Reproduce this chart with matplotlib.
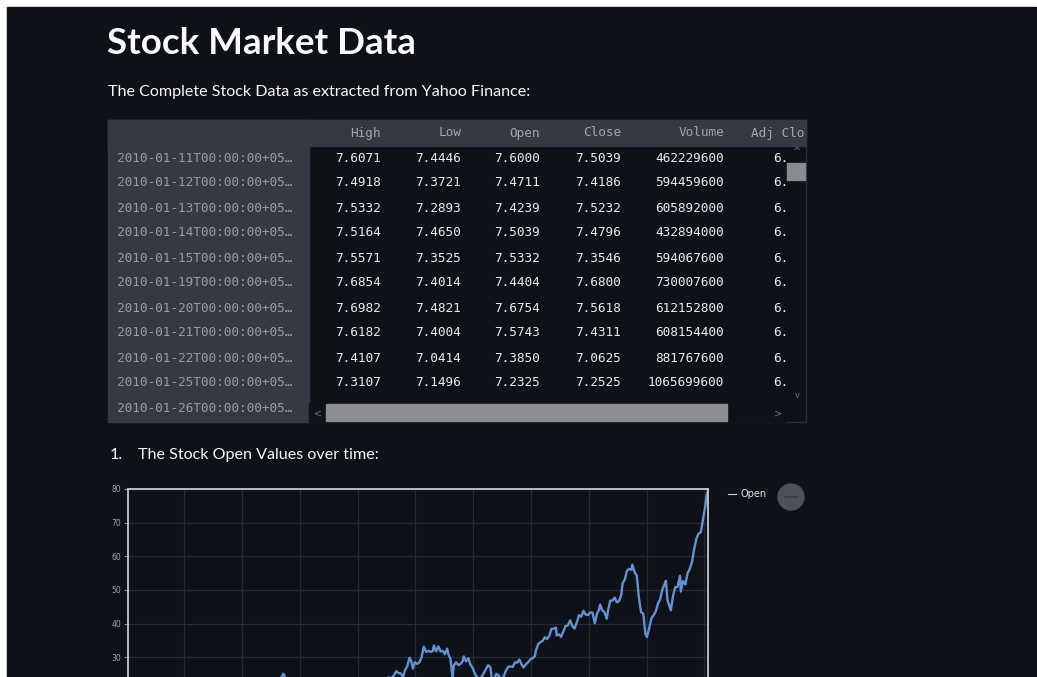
import matplotlib
matplotlib.use("Agg")
import matplotlib.pyplot as plt
import matplotlib.dates as mdates
from matplotlib.patches import Rectangle, Circle
import pandas as pd

W, H = 1037, 677
BG = "#0e1117"
PANEL = "#363845"
SANS = ["Lato", "DejaVu Sans"]
MONO = ["DejaVu Sans Mono"]

# table shown at the top of the page
index_labels = [
    "2010-01-11T00:00:00+05…", "2010-01-12T00:00:00+05…",
    "2010-01-13T00:00:00+05…", "2010-01-14T00:00:00+05…",
    "2010-01-15T00:00:00+05…", "2010-01-19T00:00:00+05…",
    "2010-01-20T00:00:00+05…", "2010-01-21T00:00:00+05…",
    "2010-01-22T00:00:00+05…", "2010-01-25T00:00:00+05…",
    "2010-01-26T00:00:00+05…",
]
columns = ["High", "Low", "Open", "Close", "Volume"]
high = ["7.6071", "7.4918", "7.5332", "7.5164", "7.5571",
        "7.6854", "7.6982", "7.6182", "7.4107", "7.3107"]
low = ["7.4446", "7.3721", "7.2893", "7.4650", "7.3525",
       "7.4014", "7.4821", "7.4004", "7.0414", "7.1496"]
open_col = ["7.6000", "7.4711", "7.4239", "7.5039", "7.5332",
            "7.4404", "7.6754", "7.5743", "7.3850", "7.2325"]
close = ["7.5039", "7.4186", "7.5232", "7.4796", "7.3546",
         "7.6800", "7.5618", "7.4311", "7.0625", "7.2525"]
volume = ["462229600", "594459600", "605892000", "432894000", "594067600",
          "730007600", "612152800", "608154400", "881767600", "1065699600"]
adj_close = ["6."] * 10

# Open price over time
open_dates = [
    "2010-01-11", "2010-02-01", "2010-02-15", "2010-03-01", "2010-03-15",
    "2010-04-01", "2010-04-15", "2010-05-03", "2010-05-17", "2010-06-01",
    "2010-06-15", "2010-07-01", "2010-07-15", "2010-08-02", "2010-08-16",
    "2010-09-01", "2010-09-15", "2010-10-01", "2010-10-15", "2010-11-01",
    "2010-11-15", "2010-12-01", "2010-12-15", "2011-01-03", "2011-01-18",
    "2011-02-01", "2011-02-15", "2011-03-01", "2011-03-15", "2011-04-01",
    "2011-04-15", "2011-05-02", "2011-05-16", "2011-06-01", "2011-06-15",
    "2011-07-01", "2011-07-15", "2011-08-01", "2011-08-15", "2011-09-01",
    "2011-09-15", "2011-10-03", "2011-10-17", "2011-11-01", "2011-11-15",
    "2011-12-01", "2011-12-15", "2012-01-03", "2012-01-17", "2012-02-01",
    "2012-02-15", "2012-03-01", "2012-03-15", "2012-04-02", "2012-04-16",
    "2012-05-01", "2012-05-15", "2012-06-01", "2012-06-15", "2012-07-02",
    "2012-07-16", "2012-08-01", "2012-08-15", "2012-09-04", "2012-09-19",
    "2012-10-01", "2012-10-15", "2012-11-01", "2012-11-15", "2012-12-03",
    "2012-12-17", "2013-01-02", "2013-01-16", "2013-02-01", "2013-02-15",
    "2013-03-01", "2013-03-15", "2013-04-01", "2013-04-15", "2013-05-01",
    "2013-05-15", "2013-06-03", "2013-06-17", "2013-07-01", "2013-07-15",
    "2013-08-01", "2013-08-15", "2013-09-03", "2013-09-16", "2013-10-01",
    "2013-10-15", "2013-11-01", "2013-11-15", "2013-12-02", "2013-12-16",
    "2014-01-02", "2014-01-16", "2014-01-28", "2014-02-14", "2014-03-03",
    "2014-03-17", "2014-04-01", "2014-04-15", "2014-04-24", "2014-05-15",
    "2014-06-02", "2014-06-16", "2014-07-01", "2014-07-15", "2014-08-01",
    "2014-08-15", "2014-09-02", "2014-09-15", "2014-10-01", "2014-10-15",
    "2014-10-28", "2014-11-10", "2014-11-25", "2014-12-05", "2014-12-16",
    "2014-12-29", "2015-01-13", "2015-01-26", "2015-02-09", "2015-02-23",
    "2015-03-10", "2015-03-24", "2015-04-07", "2015-04-21", "2015-04-28",
    "2015-05-12", "2015-05-26", "2015-06-09", "2015-06-23", "2015-07-07",
    "2015-07-21", "2015-07-29", "2015-08-11", "2015-08-24", "2015-09-01",
    "2015-09-15", "2015-09-29", "2015-10-13", "2015-10-27", "2015-11-03",
    "2015-11-17", "2015-12-01", "2015-12-15", "2015-12-29", "2016-01-12",
    "2016-01-26", "2016-02-09", "2016-02-23", "2016-03-08", "2016-03-22",
    "2016-04-05", "2016-04-19", "2016-04-27", "2016-05-12", "2016-05-26",
    "2016-06-09", "2016-06-27", "2016-07-12", "2016-07-27", "2016-08-10",
    "2016-08-24", "2016-09-07", "2016-09-21", "2016-10-05", "2016-10-19",
    "2016-11-02", "2016-11-14", "2016-11-29", "2016-12-13", "2016-12-28",
    "2017-01-11", "2017-01-25", "2017-02-01", "2017-02-15", "2017-03-01",
    "2017-03-15", "2017-03-29", "2017-04-12", "2017-04-26", "2017-05-10",
    "2017-05-24", "2017-06-07", "2017-06-12", "2017-06-26", "2017-07-10",
    "2017-07-24", "2017-08-07", "2017-08-21", "2017-09-05", "2017-09-19",
    "2017-10-03", "2017-10-17", "2017-10-31", "2017-11-14", "2017-11-28",
    "2017-12-12", "2017-12-27", "2018-01-10", "2018-01-24", "2018-02-08",
    "2018-02-22", "2018-03-06", "2018-03-13", "2018-03-27", "2018-04-10",
    "2018-04-24", "2018-05-02", "2018-05-16", "2018-05-30", "2018-06-13",
    "2018-06-27", "2018-07-11", "2018-07-25", "2018-08-02", "2018-08-16",
    "2018-08-30", "2018-09-13", "2018-09-27", "2018-10-03", "2018-10-17",
    "2018-10-31", "2018-11-13", "2018-11-27", "2018-12-11", "2018-12-24",
    "2019-01-03", "2019-01-17", "2019-01-31", "2019-02-14", "2019-02-28",
    "2019-03-14", "2019-03-28", "2019-04-11", "2019-04-25", "2019-05-03",
    "2019-05-13", "2019-05-28", "2019-06-03", "2019-06-17", "2019-07-01",
    "2019-07-15", "2019-07-31", "2019-08-05", "2019-08-19", "2019-09-03",
    "2019-09-17", "2019-10-01", "2019-10-15", "2019-10-29", "2019-11-12",
    "2019-11-26", "2019-12-10", "2019-12-24", "2020-01-07", "2020-01-15",
    "2020-01-24",
]
open_values = [
    7.60, 6.87, 7.11, 7.35, 7.96, 8.42, 8.84, 9.32, 9.05, 9.21,
    9.49, 8.94, 9.05, 9.35, 8.92, 8.82, 9.57, 10.22, 10.76, 10.78,
    10.85, 11.08, 11.45, 11.63, 11.78, 12.19, 12.96, 12.65, 12.19, 12.63,
    11.56, 12.49, 12.06, 12.32, 11.77, 12.02, 13.37, 14.13, 13.52, 13.86,
    14.44, 13.75, 15.05, 13.68, 13.68, 13.66, 13.62, 14.62, 15.15, 16.27,
    17.99, 19.58, 21.41, 21.49, 20.83, 20.89, 19.99, 20.33, 20.44, 20.88,
    21.45, 21.62, 22.80, 23.80, 25.05, 23.94, 22.29, 21.37, 18.66, 21.20,
    18.31, 19.78, 17.67, 16.37, 16.59, 15.64, 15.97, 15.87, 15.18, 15.77,
    15.32, 15.92, 15.50, 14.73, 15.23, 16.28, 17.87, 17.61, 16.29, 17.09,
    17.60, 18.75, 18.81, 19.87, 19.70, 19.85, 19.82, 18.17, 19.09, 18.71,
    18.87, 19.21, 18.59, 20.29, 21.24, 22.64, 23.04, 23.38, 24.00, 23.73,
    24.36, 25.81, 25.26, 25.16, 24.04, 26.21, 27.16, 29.82, 28.95, 26.59,
    28.45, 27.96, 28.43, 29.95, 33.10, 31.56, 31.86, 31.57, 31.80, 33.45,
    31.73, 33.19, 31.67, 31.85, 30.92, 32.53, 30.79, 29.43, 23.80, 27.54,
    28.44, 27.66, 27.93, 28.85, 30.20, 28.73, 29.69, 27.77, 26.74, 25.14,
    24.01, 23.57, 24.10, 25.20, 26.48, 27.60, 26.99, 24.00, 23.18, 25.01,
    24.58, 23.25, 24.29, 26.07, 27.12, 27.21, 27.09, 28.46, 28.35, 29.28,
    27.85, 26.93, 27.83, 28.46, 29.38, 29.68, 30.27, 32.01, 33.88, 34.47,
    34.85, 35.92, 35.40, 36.35, 38.41, 38.46, 38.80, 36.44, 36.79, 36.03,
    37.65, 39.26, 39.38, 40.94, 39.19, 38.50, 40.30, 42.47, 42.05, 43.76,
    42.65, 42.52, 43.29, 43.24, 40.07, 43.00, 44.09, 45.65, 43.92, 43.35,
    41.42, 43.81, 46.76, 46.81, 47.71, 46.31, 46.69, 48.48, 51.91, 53.10,
    55.70, 56.24, 55.96, 57.51, 55.27, 54.22, 47.79, 43.37, 42.91, 37.04,
    35.99, 38.55, 41.53, 42.43, 43.58, 45.97, 47.24, 50.21, 51.71, 52.72,
    46.93, 44.73, 43.90, 48.22, 50.79, 50.83, 54.18, 49.50, 52.65, 51.61,
    54.99, 56.27, 58.34, 62.24, 65.28, 66.73, 67.15, 71.17, 74.96, 77.96,
    79.64,
]
y_ticks = [30, 40, 50, 60, 70, 80]

fig = plt.figure(figsize=(W / 100, H / 100), dpi=100)
fig.patch.set_facecolor("white")

# page canvas in pixel units (y grows downwards)
page = fig.add_axes([0, 0, 1, 1], zorder=0)
page.set_xlim(0, W)
page.set_ylim(H, 0)
page.axis("off")
page.add_patch(Rectangle((7, 7), W - 8, H - 7, color=BG))

page.text(107, 44, "Stock Market Data", fontsize=26.5, fontweight="bold",
          color="#fafafa", family=SANS, va="center")
page.text(108, 92, "The Complete Stock Data as extracted from Yahoo Finance:",
          fontsize=11.6, color="#fafafa", family=SANS, va="center")

# dataframe widget
tbl_left, tbl_right, tbl_top, tbl_bottom = 108, 806, 120, 422
head_bottom, idx_right = 146, 309
row_y0, row_h = 158, 25
col_right = [381, 461, 540, 621, 724]
mono_size = 9.2

page.add_patch(Rectangle((tbl_left, tbl_top), tbl_right - tbl_left,
                         tbl_bottom - tbl_top, facecolor=BG,
                         edgecolor="#2c2e38", lw=1))
page.add_patch(Rectangle((tbl_left, tbl_top), tbl_right - tbl_left,
                         head_bottom - tbl_top, color=PANEL))
page.add_patch(Rectangle((tbl_left, tbl_top), idx_right - tbl_left,
                         tbl_bottom - tbl_top, color=PANEL))

for name, x in zip(columns, col_right):
    page.text(x, 133, name, fontsize=mono_size, color="#a3a5ad", family=MONO,
              ha="right", va="center")
page.text(751, 133, "Adj Clo", fontsize=mono_size, color="#a3a5ad",
          family=MONO, va="center")

for i, label in enumerate(index_labels):
    page.text(117, row_y0 + i * row_h, label, fontsize=mono_size,
              color="#9a9ca4", family=MONO, va="center")

for i, row in enumerate(zip(high, low, open_col, close, volume)):
    y = row_y0 + i * row_h
    for val, x in zip(row, col_right):
        page.text(x, y, val, fontsize=mono_size, color="#ececec", family=MONO,
                  ha="right", va="center")
    page.text(773, y, adj_close[i], fontsize=mono_size, color="#ececec",
              family=MONO, va="center")

# scrollbars
page.add_patch(Rectangle((787, 163), 18, 17, color="#8a8b8f"))
page.text(797, 152, "^", fontsize=7, color="#6f7178", ha="center", va="center")
page.text(797, 396, "v", fontsize=6, color="#6f7178", ha="center", va="center")
page.add_patch(Rectangle((idx_right, 403), 786 - idx_right, 19, color=BG))
page.add_patch(Rectangle((326, 404), 727 - 326, 17, color="#8c8d91"))
page.text(318, 413, "<", fontsize=7, color="#6f7178", ha="center", va="center")
page.text(778, 413, ">", fontsize=7, color="#6f7178", ha="center", va="center")

page.text(110, 455, "1.", fontsize=11.6, color="#fafafa", family=SANS,
          va="center")
page.text(138, 455, "The Stock Open Values over time:", fontsize=11.6,
          color="#fafafa", family=SANS, va="center")

# line chart (bottom of the plot area runs past the page)
ax = fig.add_axes([128 / W, 1 - 758 / H, 580 / W, 269 / H], zorder=1)
ax.set_facecolor(BG)
dates = pd.to_datetime(open_dates)
ax.plot(dates, open_values, color="#6393d4", lw=1.7, label="Open")
ax.set_xlim(dates[0], dates[-1])
ax.set_ylim(0, 80)
ax.set_yticks(y_ticks)
ax.xaxis.set_major_locator(mdates.YearLocator())
ax.grid(True, color="#262a33", lw=0.9)
for side in ax.spines.values():
    side.set_color("#c9cacd")
    side.set_linewidth(1.3)
ax.tick_params(axis="y", colors="#a6a7ab", labelsize=5.5, length=3, width=0.6,
               pad=2)
ax.tick_params(axis="x", labelbottom=False, length=0)
leg = ax.legend(loc="upper left", bbox_to_anchor=(1.028, 1.014),
                frameon=False, fontsize=7, handlelength=0.8,
                handletextpad=0.5, borderaxespad=0)
for t in leg.get_texts():
    t.set_color("#e6e6e6")
for h in leg.legend_handles:
    h.set_color("#cfcfcf")
    h.set_linewidth(0.8)

page.add_patch(Circle((791, 497), 13, color="#4f5159"))
page.plot([785, 797], [497, 497], color="#3a3c44", lw=1.2)

fig.savefig("out.png", dpi=100, facecolor=fig.get_facecolor())
